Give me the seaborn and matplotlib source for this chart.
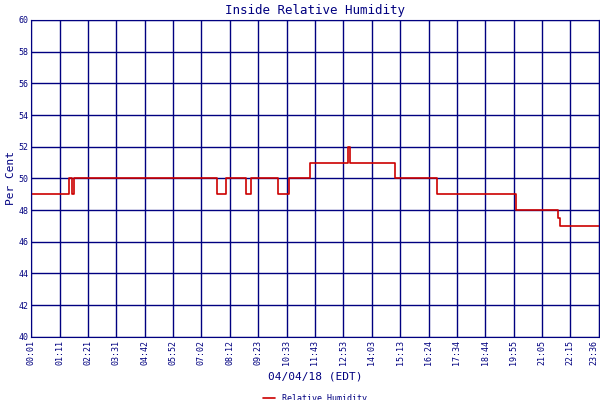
import pandas as pd
import matplotlib
matplotlib.use("Agg")
import matplotlib.pyplot as plt
import seaborn as sns

# minutos desde 00:01 e umidade relativa (%)
minutos = [0, 94, 102, 107, 462, 484, 534, 546, 613, 640, 692, 787, 792, 903, 1008, 1204, 1308, 1313, 1410]
umidade = [49, 50, 49, 50, 49, 50, 49, 50, 49, 50, 51, 52, 51, 50, 49, 48, 47.5, 47, 47]
rotulos_x = ["00:01", "01:11", "02:21", "03:31", "04:42", "05:52", "07:02", "08:12", "09:23", "10:33",
             "11:43", "12:53", "14:03", "15:13", "16:24", "17:34", "18:44", "19:55", "21:05", "22:15", "23:36"]
ticks_y = list(range(40, 61, 2))

df = pd.DataFrame({"min": minutos, "rh": umidade})
navy = "#000080"

sns.set_style("white")
plt.rcParams["font.family"] = ["DejaVu Sans Mono", "DejaVu Sans"]

fig = plt.figure(figsize=(6, 4), dpi=100)
ax = fig.add_axes([0.052, 0.158, 0.946, 0.792])
sns.lineplot(data=df, x="min", y="rh", drawstyle="steps-post", color="#cc0000", lw=1.2, ax=ax,
             label="Relative Humidity")

ax.set_xlim(0, 1410)
ax.set_ylim(40, 60)
ax.set_xticks([i * 70.5 for i in range(len(rotulos_x))])
ax.set_xticklabels(rotulos_x, rotation=90, fontsize=6, color=navy)
ax.get_xticklabels()[-1].set_ha("right")
ax.set_yticks(ticks_y)
ax.set_yticklabels(ticks_y, fontsize=6, color=navy)
ax.grid(True, color=navy, lw=1)
for s in ax.spines.values():
    s.set_color(navy)
ax.tick_params(length=0, pad=2)
ax.set_xlabel("04/04/18 (EDT)", color=navy, fontsize=8, labelpad=5)
ax.set_ylabel("Per Cent", color=navy, fontsize=8, labelpad=2)
ax.set_title("Inside Relative Humidity", color=navy, fontsize=9, pad=4)
leg = ax.legend(loc="upper center", bbox_to_anchor=(0.5, -0.165), frameon=False, fontsize=6,
                handlelength=1.5, labelcolor=navy, borderpad=0.1)
fig.savefig("out.png", dpi=100)
